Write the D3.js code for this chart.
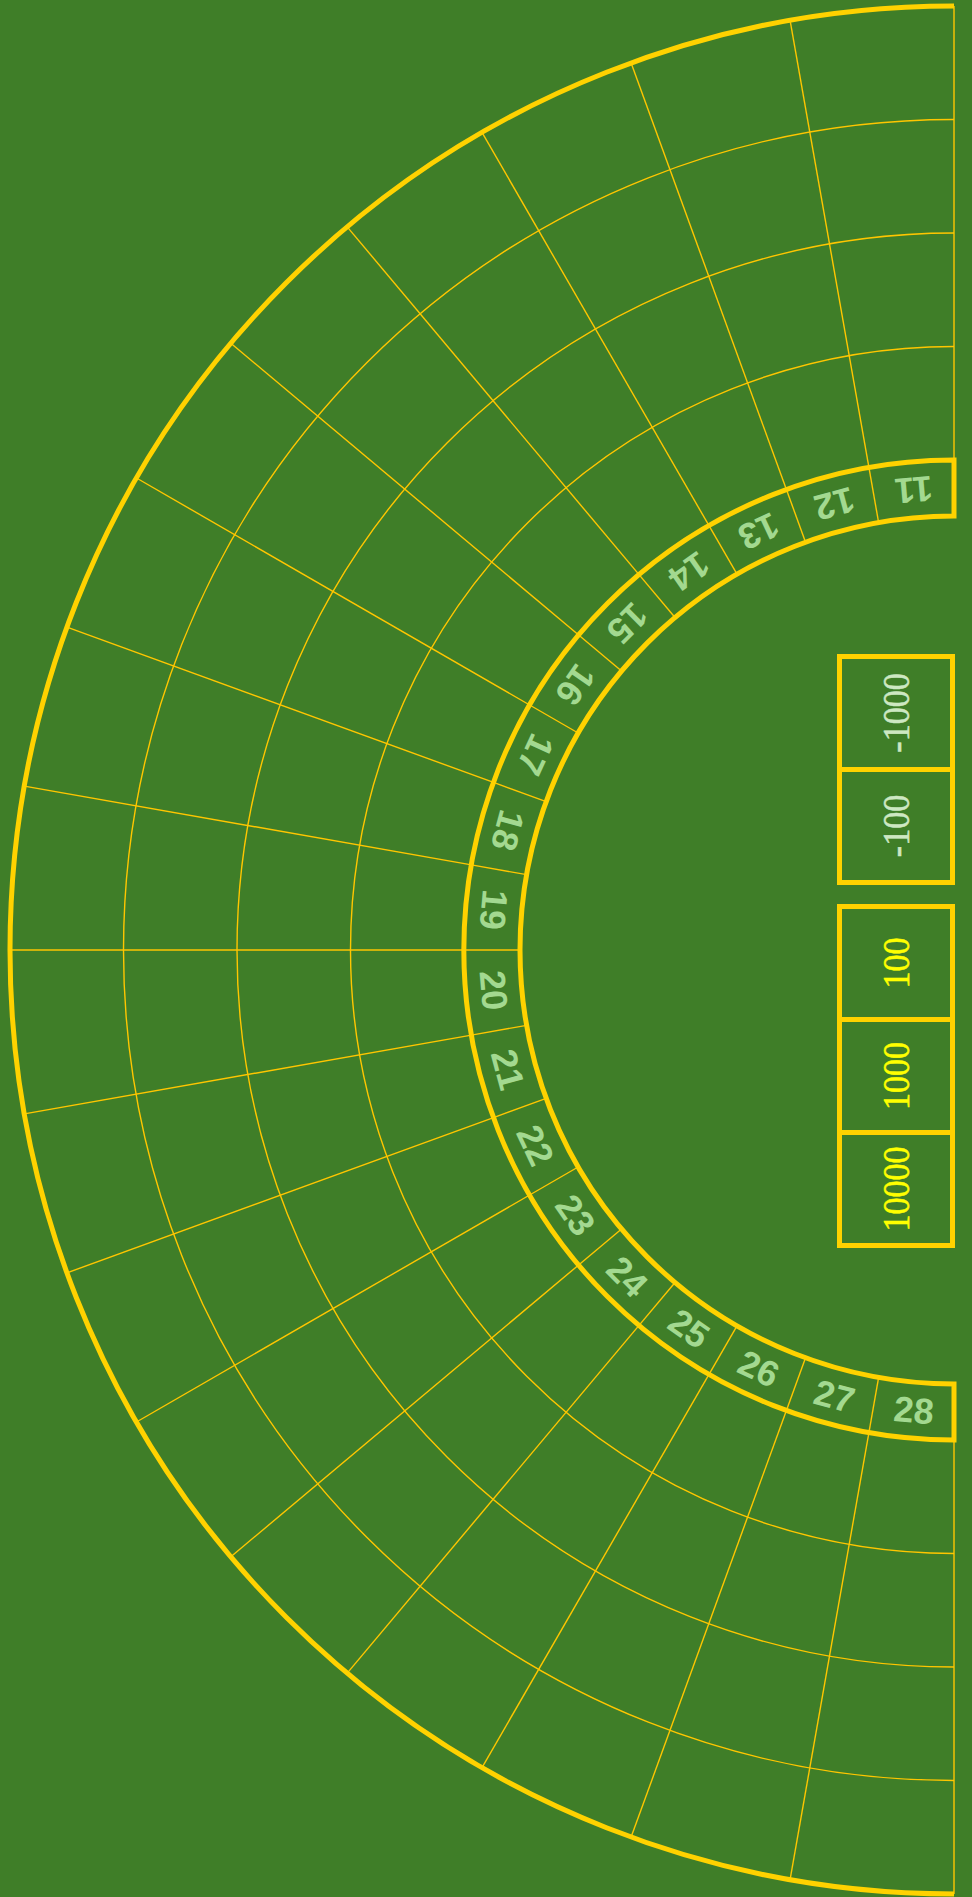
<!DOCTYPE html>
<html>
<head>
<meta charset="utf-8">
<script src="https://cdn.jsdelivr.net/npm/d3@7"></script>
<style>
  html, body { margin: 0; padding: 0; background: #3f7e28; }
  svg { display: block; }
  .box-label { font-family: "Liberation Serif", "Times New Roman", Times, serif; }
  .num { font-family: "Liberation Sans", Arial, Helvetica, sans-serif; font-weight: bold; }
</style>
</head>
<body>
<script>
// ---- data ----
const numbers = [11,12,13,14,15,16,17,18,19,20,21,22,23,24,25,26,27,28];
const ringCount = 4;                      // rings in the outer area
const lossLabels = ["-1000", "-100"];     // upper box, top to bottom
const winLabels  = ["100", "1000", "10000"]; // lower box, top to bottom

// ---- layout ----
const W = 972, H = 1897;
const cx = 954, cy = 950;
const R_OUT = 944, R_BAND_OUT = 490, R_BAND_IN = 434;
const GOLD = "#ffd200", THIN = "#ffc600", BG = "#3f7e28";

const svg = d3.select("body").append("svg").attr("width", W).attr("height", H);
svg.append("rect").attr("width", W).attr("height", H).attr("fill", BG);
const g = svg.append("g").attr("transform", `translate(${cx},${cy})`);

// angle scale: index 0..18 -> 0 .. -PI (d3 convention: 0 at top, clockwise positive)
const ang = d3.scaleLinear().domain([0, numbers.length]).range([0, -Math.PI]);
const rScale = d3.scaleLinear().domain([0, ringCount]).range([R_BAND_OUT, R_OUT]);
const pt = (a, r) => [r * Math.sin(a), -r * Math.cos(a)];

const arc = d3.arc();

// thin rings
d3.range(1, ringCount).forEach(i => {
  g.append("path")
    .attr("d", arc({innerRadius: rScale(i), outerRadius: rScale(i), startAngle: -Math.PI, endAngle: 0}))
    .attr("fill", "none").attr("stroke", THIN).attr("stroke-width", 1.4);
});

// outer spokes (0..180 deg every sector)
d3.range(0, numbers.length + 1).forEach(i => {
  const a = ang(i);
  const p0 = pt(a, R_BAND_OUT), p1 = pt(a, R_OUT);
  g.append("line").attr("x1", p0[0]).attr("y1", p0[1]).attr("x2", p1[0]).attr("y2", p1[1])
    .attr("stroke", THIN).attr("stroke-width", 1.4);
});

// band spokes between numbers
d3.range(1, numbers.length).forEach(i => {
  const a = ang(i);
  const p0 = pt(a, R_BAND_IN), p1 = pt(a, R_BAND_OUT);
  g.append("line").attr("x1", p0[0]).attr("y1", p0[1]).attr("x2", p1[0]).attr("y2", p1[1])
    .attr("stroke", THIN).attr("stroke-width", 1.4);
});

// thick outer arc
g.append("path")
  .attr("d", arc({innerRadius: R_OUT, outerRadius: R_OUT, startAngle: -Math.PI, endAngle: 0}))
  .attr("fill", "none").attr("stroke", GOLD).attr("stroke-width", 5);

// thick band outline (closed)
g.append("path")
  .attr("d", arc({innerRadius: R_BAND_IN, outerRadius: R_BAND_OUT, startAngle: -Math.PI, endAngle: 0}))
  .attr("fill", "none").attr("stroke", GOLD).attr("stroke-width", 5);

// number labels
const rLab = (R_BAND_IN + R_BAND_OUT) / 2;
g.selectAll("text.num").data(numbers).enter().append("text")
  .attr("class", "num")
  .attr("transform", (d, i) => {
    const a = (ang(i) + ang(i + 1)) / 2;
    const p = pt(a, rLab);
    return `translate(${p[0]},${p[1]}) rotate(${180 + a * 180 / Math.PI})`;
  })
  .attr("text-anchor", "middle").attr("dominant-baseline", "central")
  .attr("font-size", 36)
  .attr("fill", "#a3d990")
  .text(d => d);

// bet boxes
const cell = 113, boxX = 839.5;
function drawBox(labels, y0, color) {
  const y = d3.scaleBand().domain(labels).range([y0, y0 + cell * labels.length]);
  const bg = svg.append("g");
  bg.selectAll("rect").data(labels).enter().append("rect")
    .attr("x", boxX).attr("y", d => y(d)).attr("width", cell).attr("height", y.bandwidth())
    .attr("fill", "none").attr("stroke", GOLD).attr("stroke-width", 5);
  bg.selectAll("text").data(labels).enter().append("text")
    .attr("class", "box-label")
    .attr("transform", d => `translate(${boxX + cell / 2},${y(d) + y.bandwidth() / 2}) rotate(-90) scale(1,1.1)`)
    .attr("text-anchor", "middle").attr("dominant-baseline", "central")
    .attr("font-size", 34)
    .attr("fill", color)
    .attr("stroke", color).attr("stroke-width", 0.5)
    .text(d => d);
}
drawBox(lossLabels, 656.5, "#cde8c2");
drawBox(winLabels, 906.5, "#ffff00");
</script>
</body>
</html>
